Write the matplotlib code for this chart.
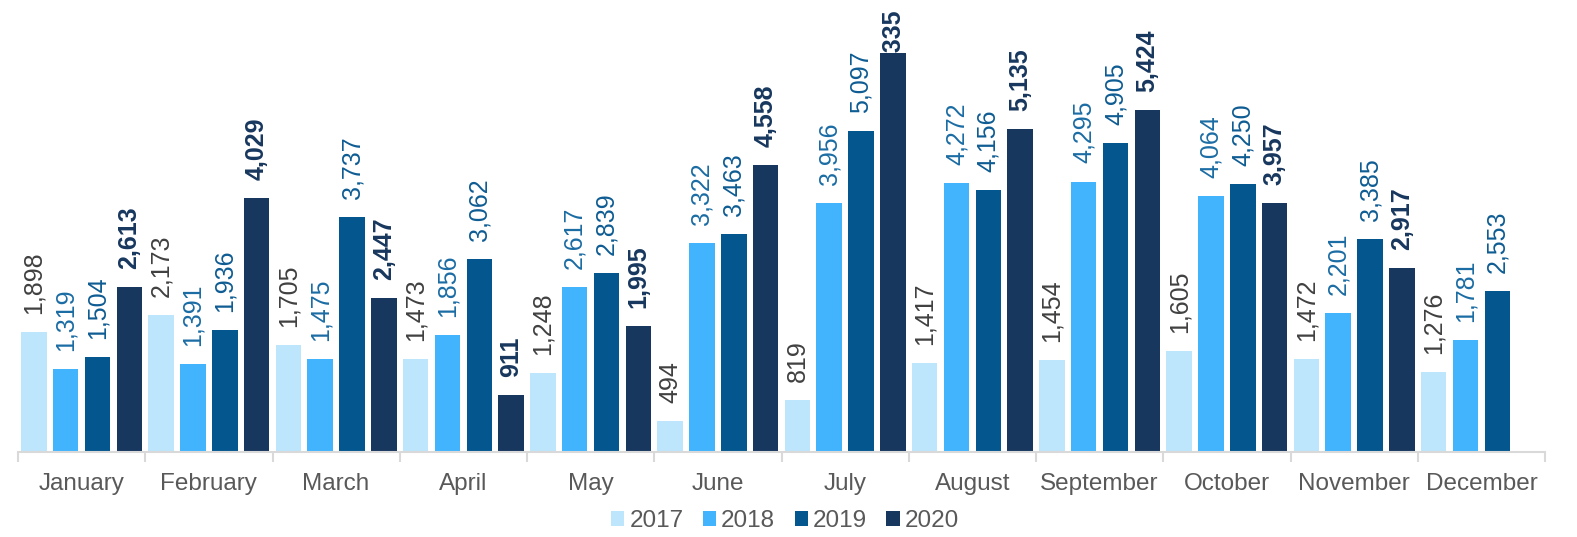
import matplotlib
matplotlib.use("Agg")
import matplotlib.pyplot as plt
import numpy as np
from matplotlib.patches import Patch

months = ["January", "February", "March", "April", "May", "June", "July",
          "August", "September", "October", "November", "December"]
years = ["2017", "2018", "2019", "2020"]
v2017 = [1898, 2173, 1705, 1473, 1248, 494, 819, 1417, 1454, 1605, 1472, 1276]
v2018 = [1319, 1391, 1475, 1856, 2617, 3322, 3956, 4272, 4295, 4064, 2201, 1781]
v2019 = [1504, 1936, 3737, 3062, 2839, 3463, 5097, 4156, 4905, 4250, 3385, 2553]
v2020 = [2613, 4029, 2447, 911, 1995, 4558, 6335, 5135, 5424, 3957, 2917, None]
series = [v2017, v2018, v2019, v2020]

bar_colors = ["#BDE5FC", "#41B4FD", "#03568E", "#17375E"]
label_colors = ["#404040", "#1B6CA4", "#0E5C93", "#17375E"]
label_weights = ["normal", "normal", "normal", "bold"]

plt.rcParams['font.family'] = ['Liberation Sans', 'DejaVu Sans']

W, H = 1577, 537
fig = plt.figure(figsize=(W / 100, H / 100), dpi=100)
ax = fig.add_axes([18 / W, 85 / H, 1527 / W, 452 / H])

ymax = 7177
ax.set_xlim(0, 12)
ax.set_ylim(0, ymax)

slot = 0.25
bw = slot * 0.8
x = np.arange(12)
fs = 18
for si, vals in enumerate(series):
    for mi, v in enumerate(vals):
        if v is None:
            continue
        xc = mi + slot * si + slot / 2
        ax.bar(xc, v, width=bw, color=bar_colors[si], edgecolor='none', zorder=2)
        top_px = (v / ymax) * 452 + 19 + 66
        if top_px > 440:
            ax.text(xc, 1 - 10 / 452, f"{v:,}", transform=ax.get_xaxis_transform(),
                    rotation=90, ha='center', va='top', fontsize=fs,
                    color=label_colors[si], fontweight=label_weights[si], zorder=3)
        else:
            ax.annotate(f"{v:,}", (xc, v), xytext=(0, 13), textcoords='offset points',
                        rotation=90, ha='center', va='bottom', fontsize=fs,
                        color=label_colors[si], fontweight=label_weights[si], zorder=3)

for s in ['top', 'right', 'left']:
    ax.spines[s].set_visible(False)
ax.spines['bottom'].set_color('#D9D9D9')
ax.spines['bottom'].set_linewidth(1.5)
ax.set_yticks([])
ax.set_xticks(np.arange(13))
ax.set_xticklabels([])
ax.tick_params(axis='x', length=7, width=1.5, color='#D9D9D9', direction='out')
ax.set_xticks(x + 0.5, minor=True)
ax.set_xticklabels(months, minor=True, fontsize=17.5, color='#595959')
ax.tick_params(axis='x', which='minor', length=0, pad=15)

handles = [Patch(facecolor=c, edgecolor='none') for c in bar_colors]
leg = fig.legend(handles, years, loc='center', bbox_to_anchor=(785 / W, 1 - 521 / H),
                 ncol=4, frameon=False, fontsize=17.5, handlelength=0.55, handleheight=0.55,
                 handletextpad=0.2, columnspacing=0.8, labelcolor='#595959')

fig.savefig("out.png", dpi=100)
